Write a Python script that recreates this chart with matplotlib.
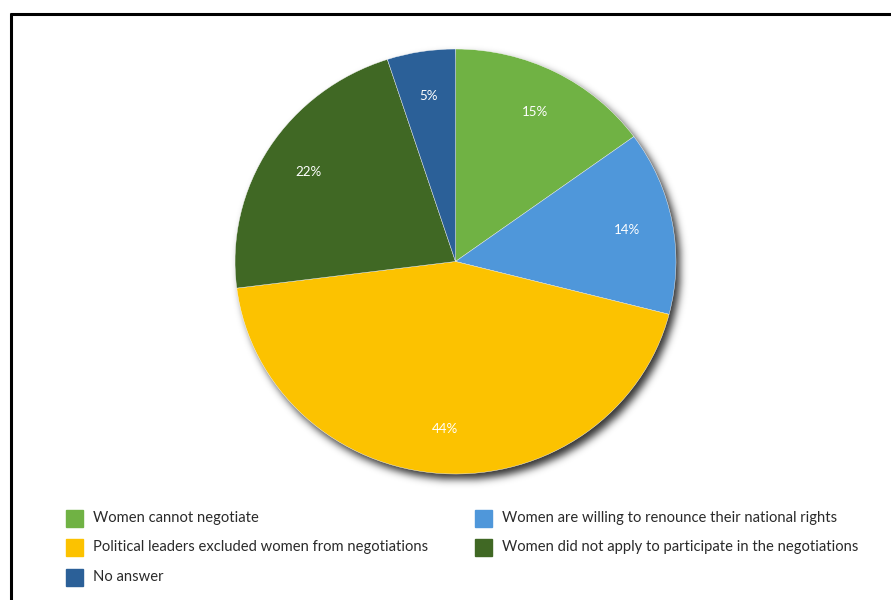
"""
Survey pie: reasons women were absent from the negotiations
"""
import matplotlib
matplotlib.use("Agg")
import matplotlib.pyplot as plt
import numpy as np
from matplotlib.patches import Rectangle
from matplotlib.lines import Line2D

labels = ["Women cannot negotiate",
          "Women are willing to renounce their national rights",
          "Political leaders excluded women from negotiations",
          "Women did not apply to participate in the negotiations",
          "No answer"]
shares = [15, 14, 44, 22, 5]
colors = ["#70b244", "#4f97da", "#fcc200", "#406824", "#2b6098"]

plt.rcParams['font.family'] = ['Lato', 'DejaVu Sans']

W, H = 891, 600
fig = plt.figure(figsize=(W / 100, H / 100), dpi=100)

# pie box in pixels (slightly wider than tall)
cx, cy, rx, ry = 455.5, 261.5, 220.5, 212.5

# blurred drop shadow under the pie
yy, xx = np.mgrid[0:H, 0:W]
mask = (((xx - cx - 4) / rx) ** 2 + ((yy - cy - 5) / ry) ** 2 <= 1).astype(float)
sig = 4.0
k = np.arange(-14, 15)
kern = np.exp(-k ** 2 / (2 * sig ** 2))
kern /= kern.sum()
blur = np.array([np.convolve(r, kern, mode="same") for r in mask])
blur = np.array([np.convolve(c, kern, mode="same") for c in blur.T]).T
shadow = np.zeros((H, W, 4))
shadow[..., 3] = blur * 0.8
bg = fig.add_axes([0, 0, 1, 1])
bg.imshow(shadow, extent=[0, W, H, 0], interpolation="bilinear")
bg.set_xlim(0, W)
bg.set_ylim(H, 0)
bg.axis("off")

# frame lines along top and left
bg.add_line(Line2D([10, W], [14, 14], color="black", lw=2.2, solid_capstyle="butt"))
bg.add_line(Line2D([11, 11], [13, H], color="black", lw=2.2, solid_capstyle="butt"))

ax = fig.add_axes([(cx - rx) / W, 1 - (cy + ry) / H, 2 * rx / W, 2 * ry / H])
wedges, texts, autotexts = ax.pie(
    shares, colors=colors, startangle=90, counterclock=False, radius=1,
    autopct="%d%%", pctdistance=0.79,
    wedgeprops=dict(edgecolor="white", linewidth=0.3),
    textprops=dict(color="white", fontsize=9.6))
ax.set_xlim(-1, 1)
ax.set_ylim(-1, 1)
ax.set_aspect("auto")
ax.axis("off")

# legend, two columns, filled column by column
order = [0, 2, 4, 1, 3]
for n, i in enumerate(order):
    col, row = divmod(n, 3)
    x0 = 66 + col * 409
    y0 = 518 + row * 29.5
    bg.add_patch(Rectangle((x0, y0 - 8.5), 17, 17, color=colors[i]))
    bg.text(x0 + 27, y0, labels[i], fontsize=10.6, color="#2a2a2a",
            va="center", ha="left")

fig.savefig("out.png", dpi=100)
